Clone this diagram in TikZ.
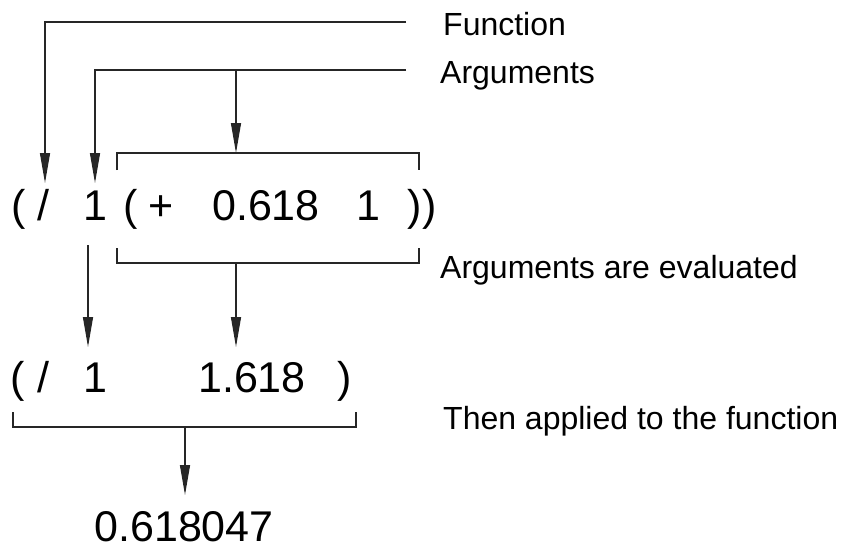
\documentclass[tikz,border=0pt]{standalone}
\usepackage{fontspec}
\setmainfont{Liberation Sans}
\usetikzlibrary{arrows.meta}
\begin{document}
\begin{tikzpicture}[x=1pt,y=-1pt,
  expr/.style={font=\fontsize{43}{50}\selectfont, inner sep=0pt, anchor=base},
  lbl/.style={font=\fontsize{32}{38}\selectfont, inner sep=0pt, anchor=base west},
  wire/.style={line width=1.3pt, draw=black!85},
  arr/.style={wire, -{Triangle[length=30pt,width=10pt]}},
  brk/.style={wire, line join=miter}]
\useasboundingbox (0,0) rectangle (848,550);
\fill[white] (0,0) rectangle (848,550);

% labels on the right
\node[lbl] (lfun) at (443,35) {Function};
\node[lbl] (larg) at (440,83) {Arguments};
\node[lbl] (leval) at (440,278) {Arguments are evaluated};
\node[lbl] (lapply) at (443,429) {Then applied to the function};

% first expression
\node[expr] (p1) at (19,220) {(};
\node[expr] (div1) at (43,220) {/};
\node[expr] (one1) at (95,220) {1};
\node[expr] (p2) at (131,220) {(};
\node[expr] (plus) at (161,220) {+};
\node[expr] (phi) at (266,220) {0.618};
\node[expr] (one2) at (368,220) {1};
\node[expr] (pp) at (422,220) {))};

% second expression
\node[expr] (q1) at (18,392) {(};
\node[expr] (div2) at (43,392) {/};
\node[expr] (one3) at (95,392) {1};
\node[expr] (sum) at (252,392) {1.618};
\node[expr] (q2) at (345,392) {)};

% result
\node[expr] (res) at (184,541) {0.618047};

% leader coordinates
\coordinate (fend) at (406,22);
\coordinate (fcorner) at (45,22);
\coordinate (ftip) at (45,183);
\coordinate (aend) at (406,70);
\coordinate (acorner) at (95,70);
\coordinate (atip) at (95,183);
\coordinate (abranch) at (236,70);

% brackets
\coordinate (b1l) at (117,170);
\coordinate (b1r) at (419,170);
\coordinate (b1top) at (236,153);
\coordinate (b2l) at (117,248);
\coordinate (b2r) at (419,248);
\coordinate (b2bot) at (236,263);
\coordinate (sumtip) at (236,347);
\coordinate (b3l) at (13,412);
\coordinate (b3r) at (356,412);
\coordinate (b3bot) at (185,427);
\coordinate (restip) at (185,495);
\coordinate (onedown) at (88,245);
\coordinate (onetip) at (88,347);

% connectors
\draw[arr] (fend) -- (fcorner) -- (ftip);
\draw[arr] (aend) -- (acorner) -- (atip);
\draw[arr] (abranch) -- (b1top);
\draw[brk] (b1l) |- (b1top) -| (b1r);
\draw[brk] (b2l) |- (b2bot) -| (b2r);
\draw[arr] (b2bot) -- (sumtip);
\draw[arr] (onedown) -- (onetip);
\draw[brk] (b3l) |- (b3bot) -| (b3r);
\draw[arr] (b3bot) -- (restip);
\end{tikzpicture}
\end{document}
